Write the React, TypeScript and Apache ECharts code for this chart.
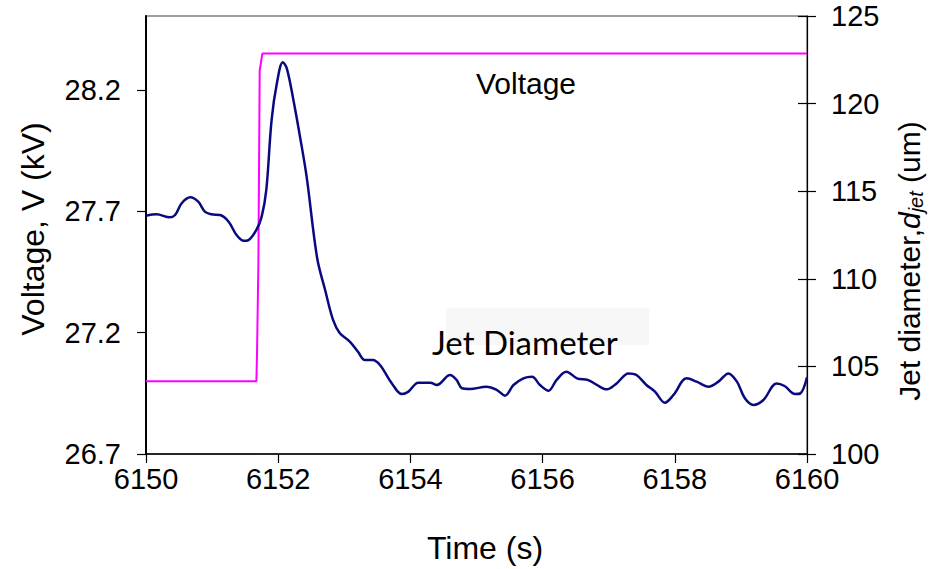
import React, { useEffect, useRef } from 'react';
import * as echarts from 'echarts';

const timeTicks = [6150, 6152, 6154, 6156, 6158, 6160];
const voltageTicks = [26.7, 27.2, 27.7, 28.2];
const diameterTicks = [100, 105, 110, 115, 120, 125];

const voltageTime = [6150, 6151.67, 6151.68, 6151.7, 6151.72, 6151.76, 6160];
const voltageValue = [27.0, 27.0, 27.12, 27.48, 28.28, 28.35, 28.35];

const jetTime = [
  6150, 6150.16, 6150.36, 6150.44, 6150.54, 6150.67, 6150.79, 6150.89, 6150.99, 6151.12,
  6151.25, 6151.37, 6151.48, 6151.55, 6151.67, 6151.75, 6151.82, 6151.9, 6151.98, 6152.07,
  6152.13, 6152.23, 6152.33, 6152.43, 6152.59, 6152.71, 6152.83, 6152.93, 6153.09, 6153.21,
  6153.31, 6153.43, 6153.54, 6153.72, 6153.87, 6153.97, 6154.12, 6154.3, 6154.4, 6154.6,
  6154.7, 6154.78, 6154.9, 6155.15, 6155.31, 6155.43, 6155.56, 6155.71, 6155.84, 6155.96,
  6156.09, 6156.21, 6156.36, 6156.52, 6156.69, 6156.82, 6156.97, 6157.12, 6157.3, 6157.42,
  6157.57, 6157.7, 6157.85, 6157.98, 6158.18, 6158.33, 6158.51, 6158.66, 6158.81, 6158.94,
  6159.06, 6159.19, 6159.34, 6159.54, 6159.66, 6159.82, 6159.9, 6160,
];
const jetDiameter = [
  113.6, 113.68, 113.51, 113.64, 114.31, 114.65, 114.4, 113.83, 113.68, 113.64,
  113.26, 112.5, 112.17, 112.21, 112.79, 113.55, 115.07, 119.06, 121.16, 122.36,
  122.01, 120.21, 118.11, 115.83, 111.17, 109.36, 107.65, 106.91, 106.39, 105.82,
  105.37, 105.37, 105.08, 104.03, 103.42, 103.56, 104.07, 104.07, 103.94, 104.51,
  104.22, 103.75, 103.71, 103.84, 103.65, 103.33, 103.94, 104.32, 104.41, 103.94,
  103.61, 104.22, 104.7, 104.32, 104.22, 103.94, 103.69, 104.03, 104.6, 104.51,
  103.94, 103.56, 102.93, 103.37, 104.32, 104.13, 103.84, 104.13, 104.6, 104.13,
  103.18, 102.8, 103.08, 104.03, 103.88, 103.42, 103.46, 104.38,
];

const FONT = '"Liberation Sans", Arial, sans-serif';

export default function App() {
  const ref = useRef<HTMLDivElement>(null);
  useEffect(() => {
    if (!ref.current) return;
    const chart = echarts.init(ref.current, null, { renderer: 'svg' });
    const labelStyle = { fontFamily: FONT, fontSize: 29, color: '#000' };
    chart.setOption({
      animation: false,
      backgroundColor: '#fff',
      grid: {
        left: 146, right: 133, top: 16, bottom: 115,
        show: true, borderColor: '#808080', borderWidth: 1.5, backgroundColor: 'transparent',
      },
      xAxis: {
        type: 'value', min: timeTicks[0], max: timeTicks[timeTicks.length - 1], interval: 2,
        splitLine: { show: false },
        axisLine: { show: true, lineStyle: { color: '#000', width: 1.5 } },
        axisTick: { show: true, length: 9, lineStyle: { color: '#000', width: 1.2 } },
        axisLabel: { ...labelStyle, margin: 10, formatter: (v: number) => String(v) },
      },
      yAxis: [
        {
          type: 'value', position: 'left', min: voltageTicks[0], max: 28.505, interval: 0.5,
          splitLine: { show: false },
          axisLine: { show: true, lineStyle: { color: '#000', width: 2 } },
          axisTick: { show: true, length: 9, customValues: voltageTicks, lineStyle: { color: '#000', width: 1.2 } },
          axisLabel: {
            ...labelStyle, margin: 25,
            formatter: (v: number) => (v > 28.3 ? '' : v.toFixed(1)),
          },
        },
        {
          type: 'value', position: 'right', min: diameterTicks[0], max: diameterTicks[diameterTicks.length - 1], interval: 5,
          splitLine: { show: false },
          axisLine: { show: true, lineStyle: { color: '#000', width: 1.2 } },
          axisTick: { show: true, length: 9, lineStyle: { color: '#000', width: 1.2 } },
          axisLabel: { ...labelStyle, margin: 24 },
        },
        {
          type: 'value', position: 'right', min: diameterTicks[0], max: diameterTicks[diameterTicks.length - 1], interval: 5,
          splitLine: { show: false },
          axisLine: { show: false },
          axisTick: { show: true, inside: true, length: 9, lineStyle: { color: '#000', width: 1.2 } },
          axisLabel: { show: false },
        },
      ],
      graphic: [
        {
          type: 'rect', z: 1, shape: { x: 446, y: 308, width: 203, height: 37 },
          style: { fill: '#f7f7f7' },
        },
        {
          type: 'text', z: 2, x: 432, y: 342,
          style: { text: 'Jet Diameter', font: '33px Lato, "Open Sans", sans-serif', fill: '#000', textAlign: 'left', textVerticalAlign: 'middle' },
        },
        {
          type: 'text', z: 2, x: 526, y: 83,
          style: { text: 'Voltage', font: `30px ${FONT}`, fill: '#000', textAlign: 'center', textVerticalAlign: 'middle' },
        },
        {
          type: 'text', z: 2, x: 485, y: 548,
          style: { text: 'Time (s)', font: `32px ${FONT}`, fill: '#000', textAlign: 'center', textVerticalAlign: 'middle' },
        },
        {
          type: 'text', z: 2, x: 33, y: 229, rotation: Math.PI / 2,
          style: { text: 'Voltage, V (kV)', font: `32px ${FONT}`, fill: '#000', textAlign: 'center', textVerticalAlign: 'middle' },
        },
        {
          type: 'text', z: 2, x: 909, y: 261, rotation: Math.PI / 2,
          style: {
            text: '{a|Jet diameter,}{b|d}{c|jet}{a| (um)}',
            textAlign: 'center', textVerticalAlign: 'middle',
            rich: {
              a: { fontFamily: FONT, fontSize: 30, color: '#000' },
              b: { fontFamily: FONT, fontSize: 30, fontStyle: 'italic', color: '#000' },
              c: { fontFamily: FONT, fontSize: 20, fontStyle: 'italic', color: '#000', padding: [14, 0, 0, 0] },
            },
          },
        },
      ],
      series: [
        {
          name: 'Voltage', type: 'line', yAxisIndex: 0, showSymbol: false, z: 3,
          lineStyle: { color: '#ff00ff', width: 2 },
          data: voltageTime.map((t, i) => [t, voltageValue[i]]),
        },
        {
          name: 'Jet Diameter', type: 'line', yAxisIndex: 1, showSymbol: false, smooth: 0.35, z: 4,
          lineStyle: { color: '#0a0a80', width: 2.5 },
          data: jetTime.map((t, i) => [t, jetDiameter[i]]),
        },
      ],
    });
    return () => chart.dispose();
  }, []);
  return <div ref={ref} style={{ position: 'fixed', left: 0, top: 0, width: 940, height: 569 }} />;
}
